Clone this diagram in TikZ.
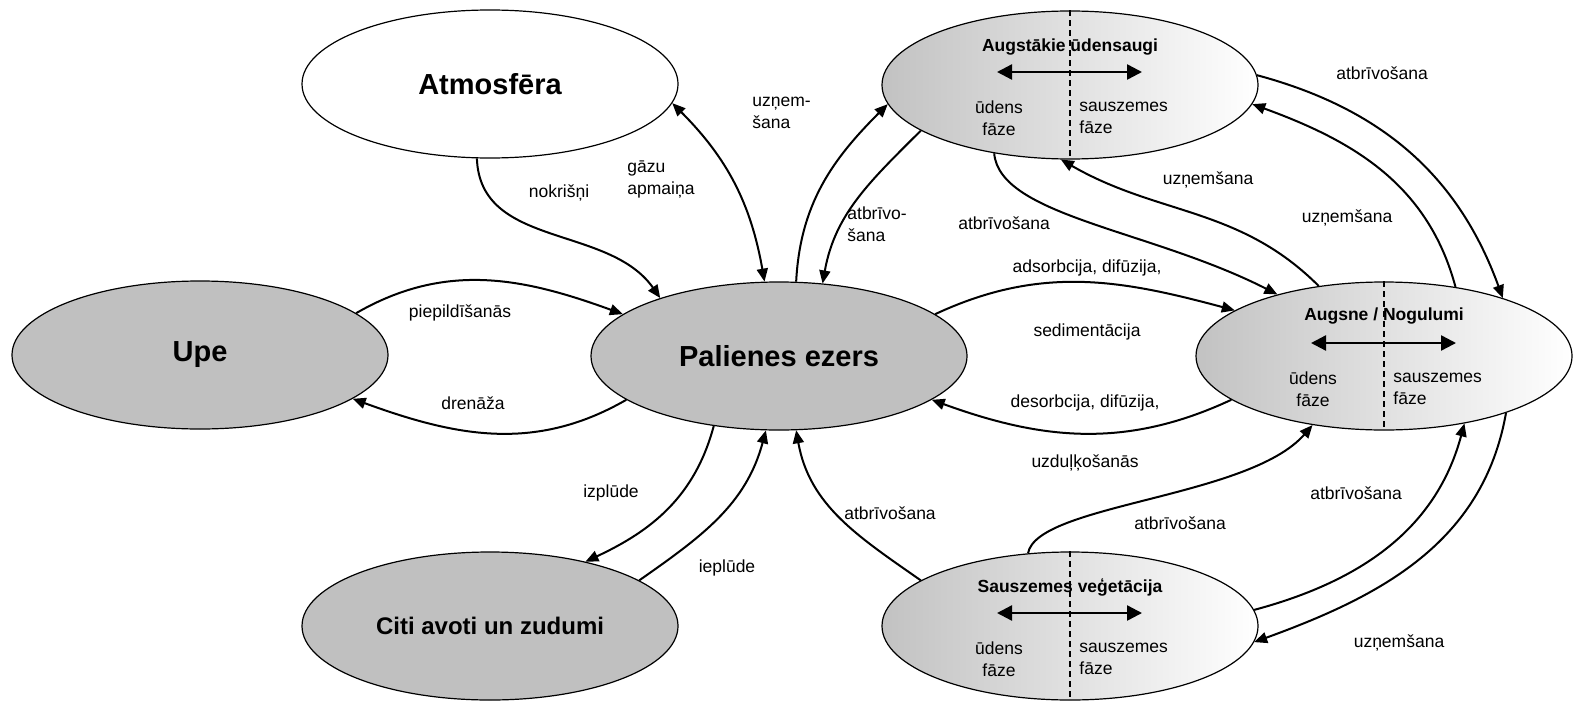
\documentclass[tikz,border=0pt]{standalone}
\usepackage{fontspec}
\setmainfont{Liberation Sans}
\usetikzlibrary{arrows.meta}
\usetikzlibrary{shapes.geometric}

\definecolor{poolgray}{HTML}{C0C0C0}
\definecolor{phasegray}{HTML}{C2C2C2}

\tikzset{
	poolbase/.style={ellipse, draw, line width=0.6pt, minimum width=188pt, minimum height=74pt, inner sep=0pt},
	pool/.style={poolbase, fill=poolgray, font=\fontsize{14.5}{17}\selectfont\bfseries},
	phase/.style={poolbase, shade, left color=phasegray, right color=white},
	lbl/.style={font=\fontsize{8.75}{11}\selectfont, inner sep=0pt},
	ttl/.style={font=\fontsize{8.75}{11}\selectfont\bfseries, inner sep=0pt},
	flow/.style={line width=1pt, ->},
	divider/.style={line width=0.6pt, dash pattern=on 3pt off 2pt},
	twoway/.style={line width=1.2pt, {Triangle[length=7.5pt,width=7.5pt]}-{Triangle[length=7.5pt,width=7.5pt]}}
}

\begin{document}
\begin{tikzpicture}[x=0.5pt, y=0.5pt, >={Triangle[length=6.5pt,width=5.5pt]}]
	\useasboundingbox (0,0) rectangle (1577,-701);

	% compartments
	\node[pool, fill=white] (atm) at (490,-84) {Atmosfēra};
	\node[pool] (upe) at (200,-355) {Upe};
	\node[pool] (lake) at (779,-356) {Palienes ezers};
	\node[pool, font=\fontsize{12}{14}\selectfont\bfseries] (citi) at (490,-626) {Citi avoti un zudumi};
	\node[phase] (plants) at (1070,-85) {};
	\node[phase] (soil) at (1384,-356) {};
	\node[phase] (veg) at (1070,-626) {};

	% water / land phases
	\foreach \n in {plants, soil, veg} {
		\draw[divider] (\n.north) -- (\n.south);
		\draw[twoway] ([xshift=-36.5pt,yshift=6.5pt]\n.center) -- ([xshift=36pt,yshift=6.5pt]\n.center);
		\node[lbl, align=center] (\n-w) at ([xshift=-35.5pt,yshift=-16.5pt]\n.center) {ūdens\\fāze};
		\node[lbl, align=left, anchor=west] (\n-l) at ([xshift=4.5pt,yshift=-16.5pt]\n.center) {sauszemes\\fāze};
	}
	\node[ttl] (plants-t) at ([yshift=19pt]plants.center) {Augstākie ūdensaugi};
	\node[ttl] (soil-t) at ([yshift=20pt]soil.center) {Augsne / Nogulumi};
	\node[ttl] (veg-t) at ([yshift=19.5pt]veg.center) {Sauszemes veģetācija};

	% flows
	\draw[flow] (atm.260) to[out=-88, in=125] (lake.154);
	\draw[flow, <->] (atm.-6) to[out=-45, in=100] (lake.101);
	\draw[flow] (upe.15) to[out=30, in=160] (lake.165);
	\draw[flow] (lake.196) to[out=-150, in=-20] (upe.344);
	\draw[flow] (lake.227) to[out=-105, in=25] (citi.34);
	\draw[flow] (citi.17) to[out=35, in=-105] (lake.260);
	\draw[flow] (lake.77) to[out=87, in=-135] (plants.186);
	\draw[flow] (plants.197) to[out=-135, in=80] (lake.59);
	\draw[flow] (plants.222) .. controls +(-85:63) and +(153:143) .. (soil.150);
	\draw[flow] (soil.133) to[out=135, in=-30] (plants.263);
	\draw[flow] (plants.3) to[out=-15, in=110] (soil.26);
	\draw[flow] (soil.44) to[out=105, in=-20] (plants.354);
	\draw[flow] (lake.15) to[out=25, in=165] (soil.163);
	\draw[flow] (soil.196) to[out=-155, in=-20] (lake.344);
	\draw[flow] (veg.163) to[out=145, in=-80] (lake.-77);
	\draw[flow] (veg.120) .. controls +(80:50) and +(-131:97) .. (soil.224);
	\draw[flow] (veg.5) to[out=15, in=-105] (soil.-40);
	\draw[flow] (soil.-25) to[out=-100, in=20] (veg.-5);

	% flow labels
	\node[lbl] (l-nokr) at (559,-193) {nokrišņi};
	\node[lbl, align=left, anchor=west] (l-gas) at (627,-180) {gāzu\\apmaiņa};
	\node[lbl, align=left, anchor=west] (l-upt1) at (752,-113) {uzņem-\\šana};
	\node[lbl, align=left, anchor=west] (l-rel1) at (847,-224) {atbrīvo-\\šana};
	\node[lbl] (l-rel2) at (1004,-223) {atbrīvošana};
	\node[lbl] (l-upt2) at (1208,-180) {uzņemšana};
	\node[lbl] (l-upt3) at (1347,-218) {uzņemšana};
	\node[lbl] (l-rel3) at (1382,-73) {atbrīvošana};
	\node[lbl] (l-fill) at (460,-313) {piepildīšanās};
	\node[lbl] (l-drain) at (473,-403) {drenāža};
	\node[lbl] (l-ads) at (1087,-268) {adsorbcija, difūzija,};
	\node[lbl] (l-sed) at (1087,-332) {sedimentācija};
	\node[lbl] (l-des) at (1085,-403) {desorbcija, difūzija,};
	\node[lbl] (l-res) at (1085,-463) {uzduļķošanās};
	\node[lbl] (l-out) at (611,-493) {izplūde};
	\node[lbl] (l-in) at (727,-568) {ieplūde};
	\node[lbl] (l-rel4) at (890,-513) {atbrīvošana};
	\node[lbl] (l-rel5) at (1180,-523) {atbrīvošana};
	\node[lbl] (l-rel6) at (1356,-493) {atbrīvošana};
	\node[lbl] (l-upt4) at (1399,-643) {uzņemšana};
\end{tikzpicture}
\end{document}
